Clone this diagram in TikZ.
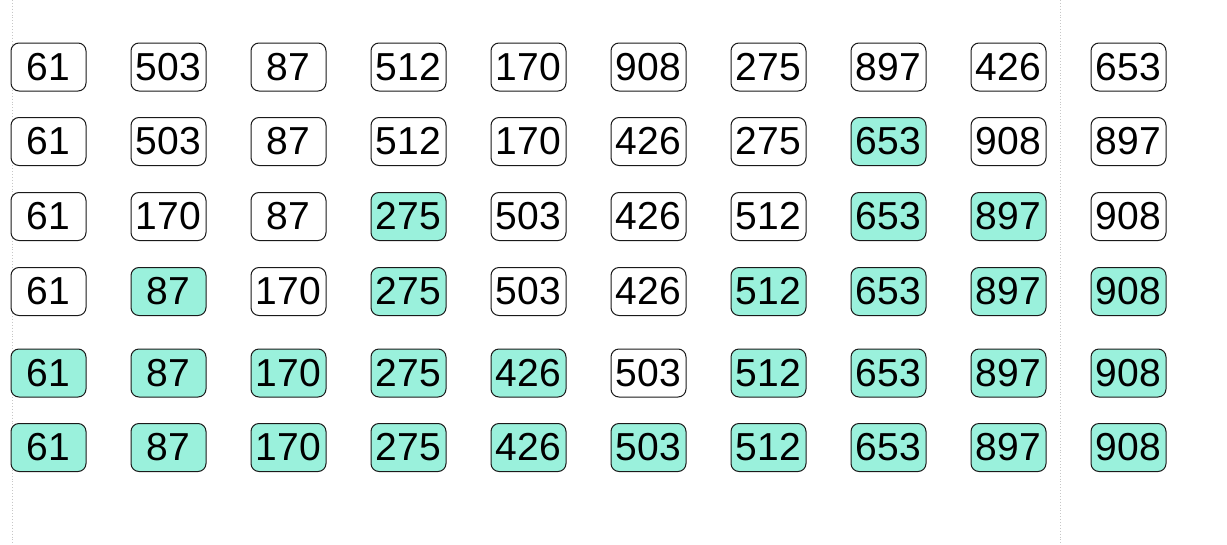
\documentclass[tikz,border=0pt]{standalone}
\usepackage{fontspec}
\setmainfont{Liberation Sans}
\definecolor{mint}{HTML}{9AF1DC}
\definecolor{edge}{HTML}{1A1A1A}
\begin{document}
\begin{tikzpicture}[x=1pt,y=-1pt,
  cell/.style={draw=edge,line width=1pt,rounded corners=8pt,minimum width=75pt,minimum height=48pt,inner sep=0pt,font=\fontsize{39}{39}\selectfont},
  hot/.style={cell,fill=mint},
  plain/.style={cell,fill=white},
  pageline/.style={draw=black!22,line width=0.9pt,dotted}]
\useasboundingbox (0,0) rectangle (1227,544);
\fill[white] (0,0) rectangle (1227,544);
\coordinate (l1) at (12,0); \coordinate (l2) at (12,544);
\coordinate (r1) at (1060,0); \coordinate (r2) at (1060,544);
\draw[pageline] (l1) -- (l2);
\draw[pageline] (r1) -- (r2);
\foreach \r/\y/\data in {
  1/67/{61/0,503/0,87/0,512/0,170/0,908/0,275/0,897/0,426/0,653/0},
  2/141.5/{61/0,503/0,87/0,512/0,170/0,426/0,275/0,653/1,908/0,897/0},
  3/216.5/{61/0,170/0,87/0,275/1,503/0,426/0,512/0,653/1,897/1,908/0},
  4/291.5/{61/0,87/1,170/0,275/1,503/0,426/0,512/1,653/1,897/1,908/1},
  5/373/{61/1,87/1,170/1,275/1,426/1,503/0,512/1,653/1,897/1,908/1},
  6/447.5/{61/1,87/1,170/1,275/1,426/1,503/1,512/1,653/1,897/1,908/1}}{
  \foreach \v/\h [count=\c from 0] in \data {
    \ifnum\h=1
      \node[hot] (n-\r-\c) at (48.5+120*\c,\y) {\v};
    \else
      \node[plain] (n-\r-\c) at (48.5+120*\c,\y) {\v};
    \fi
  }
}
\end{tikzpicture}
\end{document}
